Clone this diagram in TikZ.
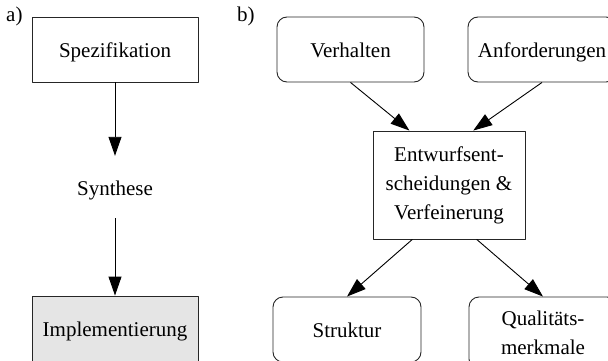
\documentclass[tikz,border=0pt]{standalone}
\usepackage{fontspec}
\setmainfont{Liberation Serif}
\usepackage{xcolor}
\definecolor{implgray}{HTML}{E5E5E5}
\usepackage{tikz}
\usetikzlibrary{arrows.meta,positioning}
\tikzset{
  >={Triangle[length=19pt,width=13pt]},
  every picture/.style={line join=round},
  txt/.style={font=\fontsize{21}{29}\selectfont, align=center, inner sep=0pt},
  oneline/.style={text height=20pt, text depth=4pt},
  box/.style={txt, draw=black!85, line width=0.9pt},
  rbox/.style={box, rounded corners=10pt},
  flow/.style={->, line width=0.9pt},
}

\begin{document}
\begin{tikzpicture}[x=1pt, y=-1pt]
\useasboundingbox (0,0) rectangle (608,361);
\clip (0,0) rectangle (608,361);
% a) Spezifikation -> Synthese -> Implementierung
\node[txt, anchor=base west] (lbla) at (6,22) {a)};
\node[box, oneline, minimum width=166pt, minimum height=65pt] (spez) at (115,49.5) {Spezifikation};
\node[txt, oneline, minimum height=62pt] (synth) at (115,187) {Synthese};
\node[box, oneline, fill=implgray, minimum width=166pt, minimum height=65pt] (impl) at (115,328.5) {Implementierung};
\draw[flow] (spez) -- (synth);
\draw[flow] (synth) -- (impl);
% b) Entwurfsentscheidungen
\node[txt, anchor=base west] (lblb) at (237,22) {b)};
\node[rbox, oneline, minimum width=147pt, minimum height=65pt] (verh) at (350.5,49.5) {Verhalten};
\node[rbox, oneline, minimum width=148pt, minimum height=65pt] (anf) at (542,49.5) {Anforderungen};
\node[box, minimum width=152pt, minimum height=108pt] (entw) at (449,185) {Entwurfsent-\\scheidungen \&\\Verfeinerung};
\node[rbox, oneline, minimum width=148pt, minimum height=65pt] (struk) at (347,329.5) {Struktur};
\node[rbox, minimum width=148pt, minimum height=72pt] (qual) at (543,333) {Qualitäts-\\merkmale};
\draw[flow] (verh.south) -- (entw.126);
\draw[flow] (anf.south) -- (entw.66);
\draw[flow] (entw.236) -- (struk.north);
\draw[flow] (entw.297) -- (qual.north);
\end{tikzpicture}
\end{document}
